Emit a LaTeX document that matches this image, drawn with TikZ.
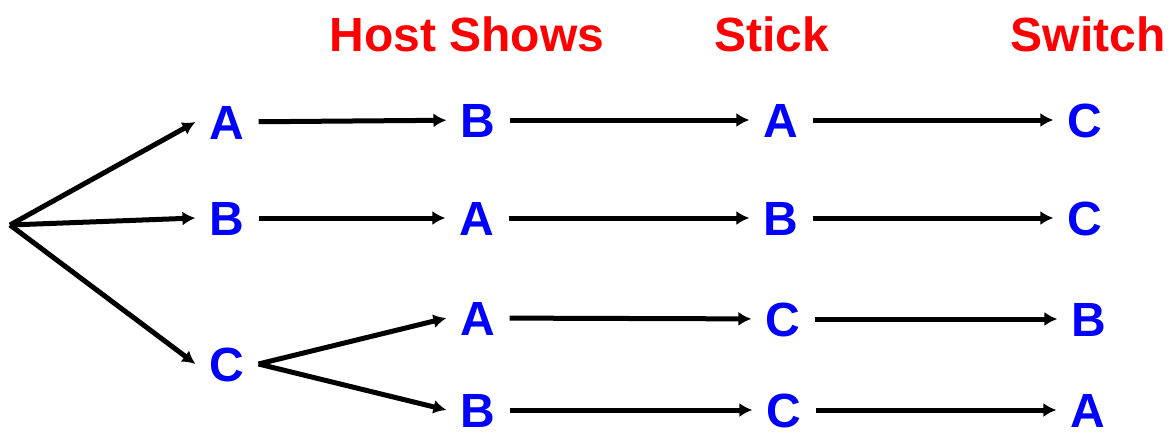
\documentclass[tikz,border=0pt]{standalone}
\usepackage{fontspec}
\setmainfont{Liberation Sans}
\usepackage{tikz}
\usetikzlibrary{arrows.meta}
\definecolor{choiceblue}{RGB}{0, 0, 255}
\definecolor{headred}{RGB}{255, 0, 0}

\begin{document}
\begin{tikzpicture}[
    x=1pt, y=1pt,
    choice/.style={text=choiceblue, font=\fontsize{48}{50}\selectfont\bfseries,
                   inner xsep=14pt, inner ysep=1pt,
                   text height=34pt, text depth=0pt},
    header/.style={text=headred, font=\fontsize{48}{50}\selectfont\bfseries,
                   inner sep=0pt, text height=34pt, text depth=0pt},
    arrow/.style={-{Latex[length=13pt,width=14pt]}, line width=5pt, black}
]
\useasboundingbox (0,0) rectangle (1170,-436);

% column headings
\node[header] (hshows) at (467,-35) {Host Shows};
\node[header] (hstick) at (772,-35) {Stick};
\node[header] (hswitch) at (1088,-35) {Switch};

% start
\coordinate (root) at (10,-225);

% first pick
\node[choice] (a1) at (227,-122) {A};
\node[choice] (b1) at (227,-218) {B};
\node[choice] (c1) at (227,-364) {C};

% host shows
\node[choice] (b2) at (478,-120) {B};
\node[choice] (a2) at (477,-218) {A};
\node[choice] (a2c) at (478,-318) {A};
\node[choice] (b2c) at (478,-410) {B};

% stick
\node[choice] (a3) at (781,-120) {A};
\node[choice] (b3) at (781,-218) {B};
\node[choice] (c3) at (783,-319) {C};
\node[choice] (c3b) at (784,-410) {C};

% switch
\node[choice] (c4) at (1085,-120) {C};
\node[choice] (c4b) at (1085,-218) {C};
\node[choice] (b4) at (1089,-319) {B};
\node[choice] (a4) at (1088,-410) {A};

\draw[arrow] (root) -- (a1.west);
\draw[arrow] (root) -- (b1.west);
\draw[arrow] (root) -- (c1.west);

\draw[arrow] (a1) -- (b2);
\draw[arrow] (b1) -- (a2);
\draw[arrow] (c1.east) -- (a2c.west);
\draw[arrow] (c1.east) -- (b2c.west);

\draw[arrow] (b2) -- (a3);
\draw[arrow] (a2) -- (b3);
\draw[arrow] (a2c) -- (c3);
\draw[arrow] (b2c) -- (c3b);

\draw[arrow] (a3) -- (c4);
\draw[arrow] (b3) -- (c4b);
\draw[arrow] (c3) -- (b4);
\draw[arrow] (c3b) -- (a4);

\end{tikzpicture}
\end{document}
